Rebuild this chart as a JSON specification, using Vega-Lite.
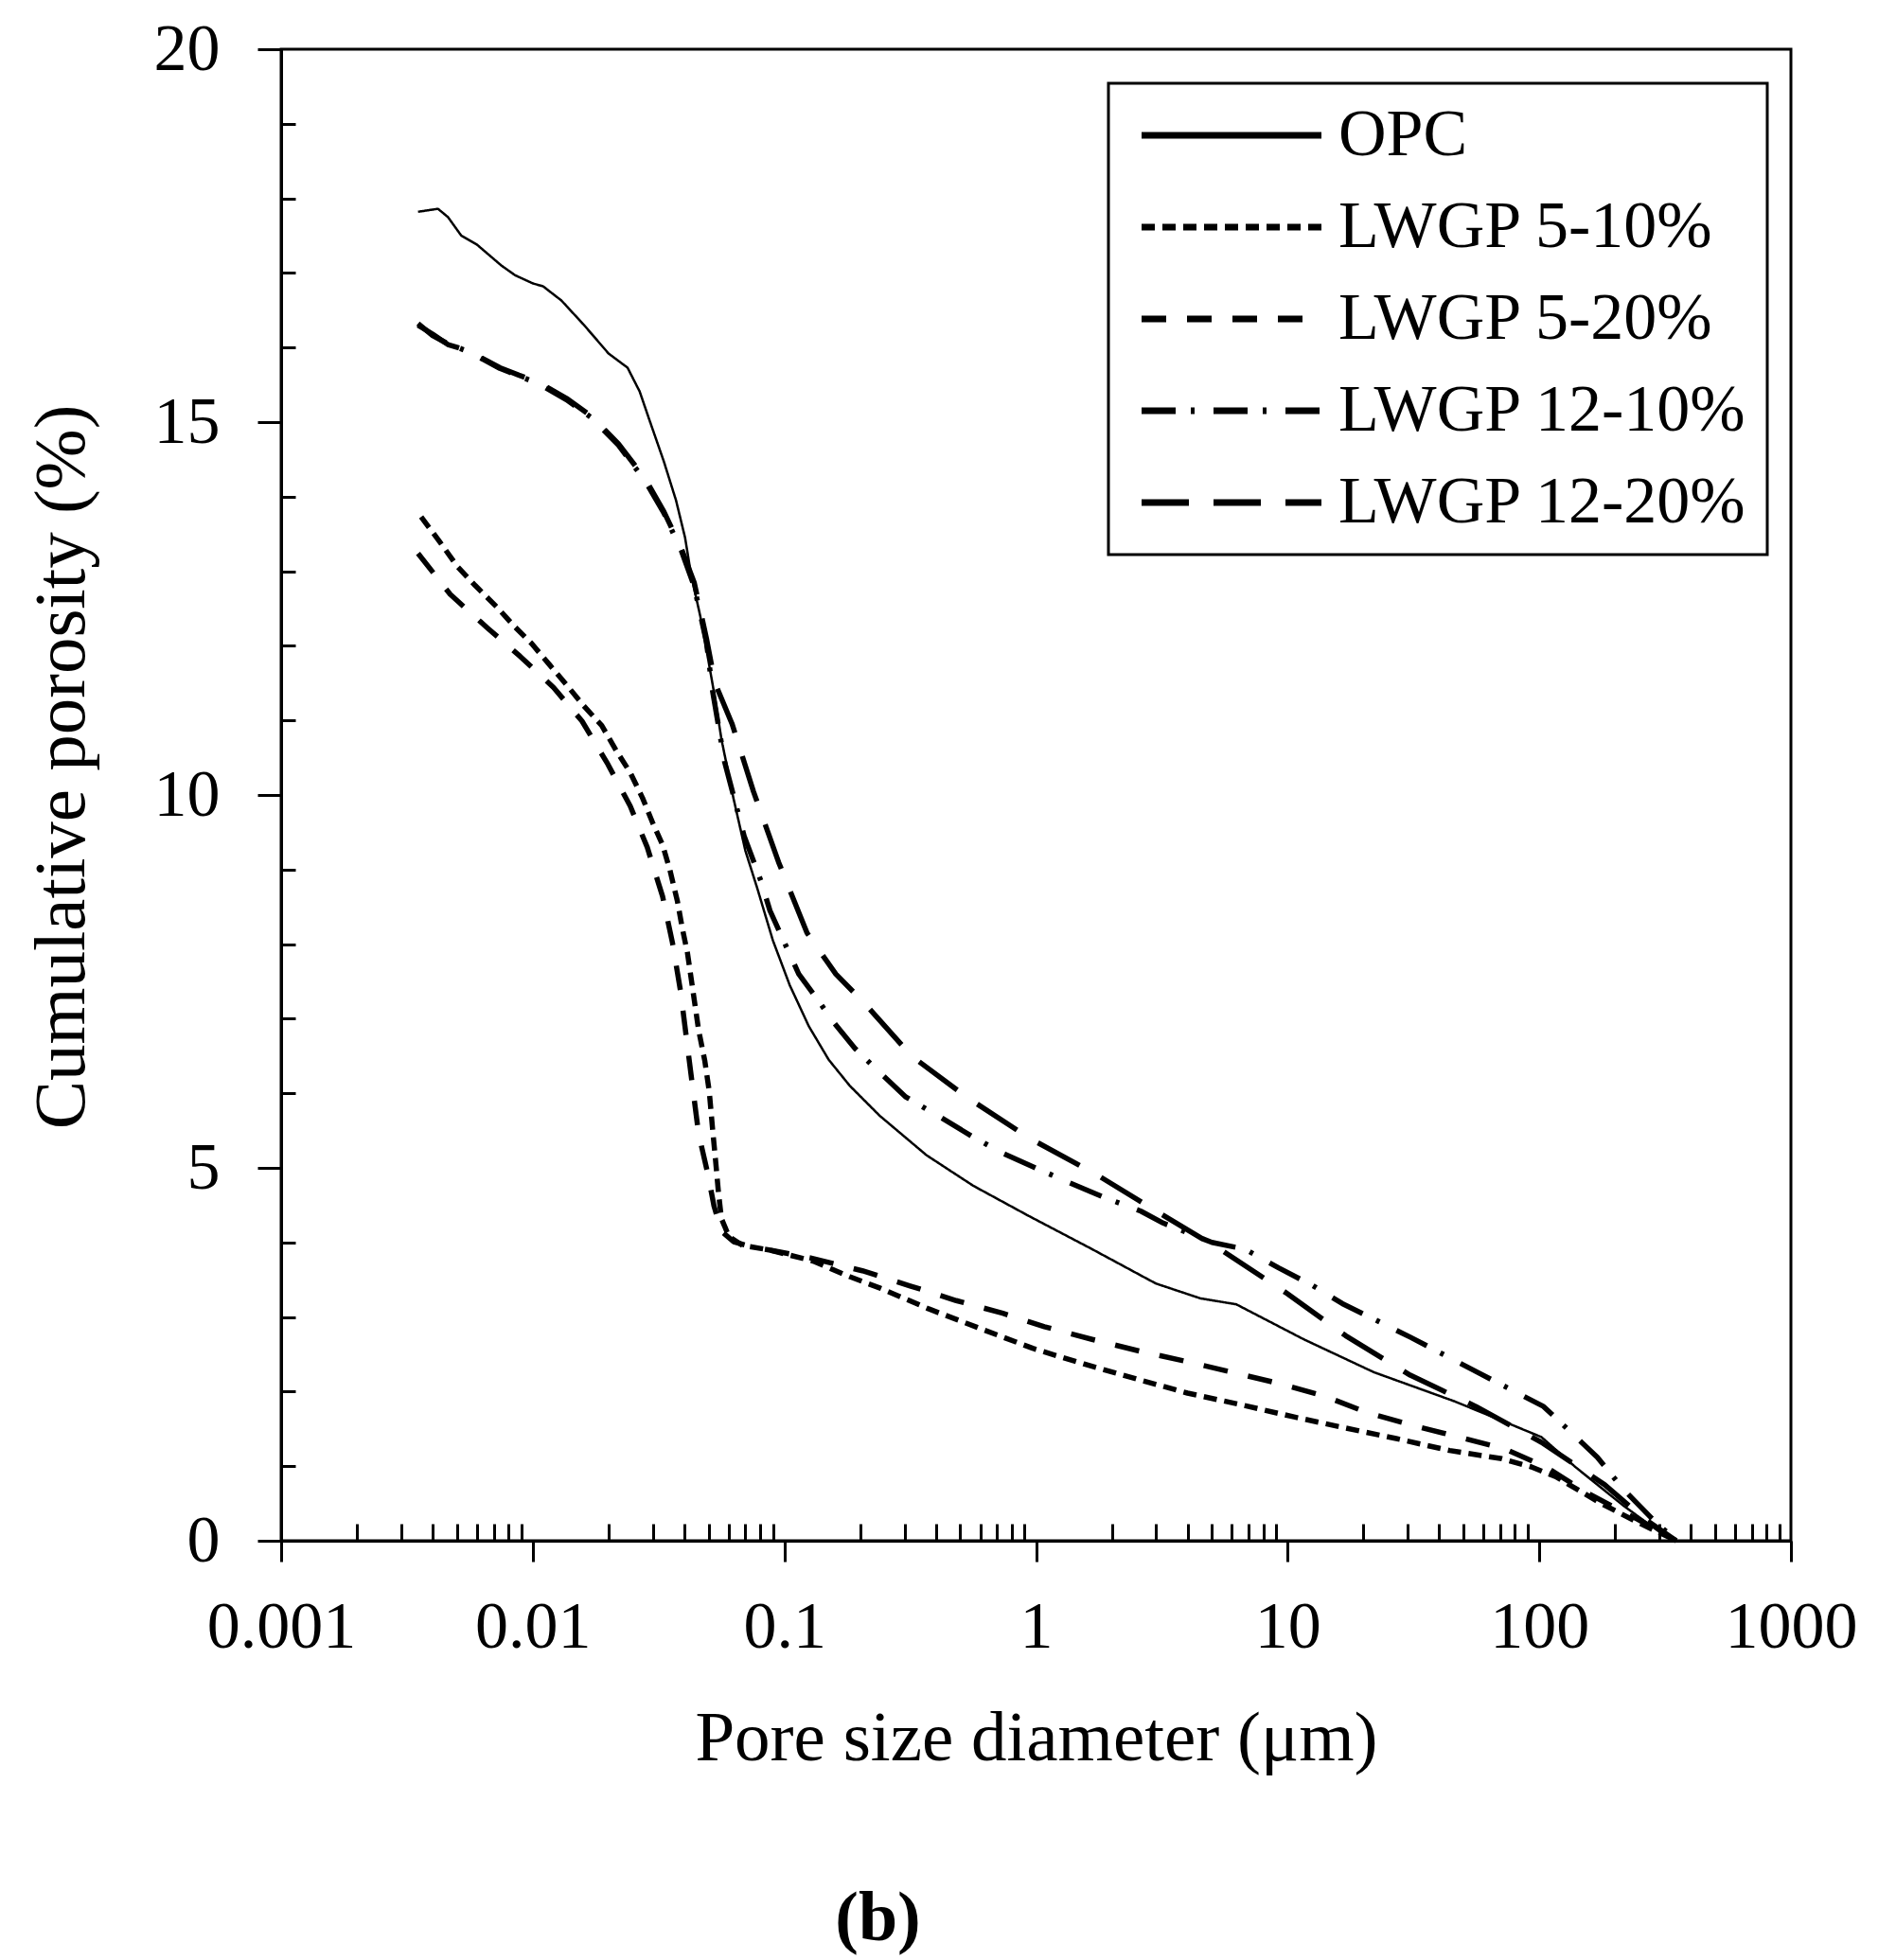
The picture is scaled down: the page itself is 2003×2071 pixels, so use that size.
{
  "$schema": "https://vega.github.io/schema/vega-lite/v6.json",
  "width": 1595,
  "height": 1576,
  "autosize": {"type": "none"},
  "padding": {"left": 297, "top": 52, "right": 111, "bottom": 443},
  "background": "white",
  "title": {"text": "(b)", "orient": "bottom", "anchor": "middle", "dx": -167, "offset": 118, "fontSize": 74, "fontWeight": "bold", "font": "Liberation Serif", "color": "black"},
  "data": {"values": [
    {"s": "OPC", "d": 0.0035, "p": 17.82}, {"s": "OPC", "d": 0.0042, "p": 17.86}, {"s": "OPC", "d": 0.0046, "p": 17.75}, {"s": "OPC", "d": 0.0052, "p": 17.5}, {"s": "OPC", "d": 0.006, "p": 17.38}, {"s": "OPC", "d": 0.0075, "p": 17.1}, {"s": "OPC", "d": 0.0085, "p": 16.97}, {"s": "OPC", "d": 0.01, "p": 16.86}, {"s": "OPC", "d": 0.011, "p": 16.82}, {"s": "OPC", "d": 0.013, "p": 16.63}, {"s": "OPC", "d": 0.016, "p": 16.3}, {"s": "OPC", "d": 0.02, "p": 15.92}, {"s": "OPC", "d": 0.0238, "p": 15.73}, {"s": "OPC", "d": 0.0266, "p": 15.41}, {"s": "OPC", "d": 0.029, "p": 15.04}, {"s": "OPC", "d": 0.0332, "p": 14.47}, {"s": "OPC", "d": 0.0371, "p": 13.95}, {"s": "OPC", "d": 0.0403, "p": 13.45}, {"s": "OPC", "d": 0.0426, "p": 12.95}, {"s": "OPC", "d": 0.0463, "p": 12.4}, {"s": "OPC", "d": 0.049, "p": 11.95}, {"s": "OPC", "d": 0.053, "p": 11.3}, {"s": "OPC", "d": 0.0562, "p": 10.75}, {"s": "OPC", "d": 0.0628, "p": 9.95}, {"s": "OPC", "d": 0.07, "p": 9.25}, {"s": "OPC", "d": 0.078, "p": 8.75}, {"s": "OPC", "d": 0.09, "p": 8.05}, {"s": "OPC", "d": 0.105, "p": 7.45}, {"s": "OPC", "d": 0.125, "p": 6.9}, {"s": "OPC", "d": 0.15, "p": 6.45}, {"s": "OPC", "d": 0.182, "p": 6.1}, {"s": "OPC", "d": 0.239, "p": 5.7}, {"s": "OPC", "d": 0.367, "p": 5.17}, {"s": "OPC", "d": 0.563, "p": 4.76}, {"s": "OPC", "d": 0.93, "p": 4.36}, {"s": "OPC", "d": 1.67, "p": 3.91}, {"s": "OPC", "d": 2.99, "p": 3.45}, {"s": "OPC", "d": 4.5, "p": 3.25}, {"s": "OPC", "d": 6.25, "p": 3.17}, {"s": "OPC", "d": 11.6, "p": 2.7}, {"s": "OPC", "d": 22, "p": 2.26}, {"s": "OPC", "d": 46, "p": 1.87}, {"s": "OPC", "d": 71, "p": 1.61}, {"s": "OPC", "d": 102, "p": 1.39}, {"s": "OPC", "d": 139, "p": 0.99}, {"s": "OPC", "d": 216, "p": 0.47}, {"s": "OPC", "d": 300, "p": 0.12}, {"s": "OPC", "d": 350, "p": 0},

    {"s": "LWGP 5-10%", "d": 0.0036, "p": 13.73}, {"s": "LWGP 5-10%", "d": 0.0043, "p": 13.38}, {"s": "LWGP 5-10%", "d": 0.005, "p": 13.07}, {"s": "LWGP 5-10%", "d": 0.0059, "p": 12.81}, {"s": "LWGP 5-10%", "d": 0.0072, "p": 12.52}, {"s": "LWGP 5-10%", "d": 0.0084, "p": 12.27}, {"s": "LWGP 5-10%", "d": 0.0099, "p": 12.03}, {"s": "LWGP 5-10%", "d": 0.0117, "p": 11.74}, {"s": "LWGP 5-10%", "d": 0.0136, "p": 11.48}, {"s": "LWGP 5-10%", "d": 0.0159, "p": 11.2}, {"s": "LWGP 5-10%", "d": 0.0188, "p": 10.93}, {"s": "LWGP 5-10%", "d": 0.0216, "p": 10.58}, {"s": "LWGP 5-10%", "d": 0.0244, "p": 10.3}, {"s": "LWGP 5-10%", "d": 0.0273, "p": 9.96}, {"s": "LWGP 5-10%", "d": 0.0301, "p": 9.61}, {"s": "LWGP 5-10%", "d": 0.0328, "p": 9.33}, {"s": "LWGP 5-10%", "d": 0.0351, "p": 8.99}, {"s": "LWGP 5-10%", "d": 0.0376, "p": 8.57}, {"s": "LWGP 5-10%", "d": 0.0392, "p": 8.23}, {"s": "LWGP 5-10%", "d": 0.0412, "p": 7.88}, {"s": "LWGP 5-10%", "d": 0.0432, "p": 7.4}, {"s": "LWGP 5-10%", "d": 0.0456, "p": 6.85}, {"s": "LWGP 5-10%", "d": 0.0483, "p": 6.43}, {"s": "LWGP 5-10%", "d": 0.0503, "p": 6.02}, {"s": "LWGP 5-10%", "d": 0.0518, "p": 5.53}, {"s": "LWGP 5-10%", "d": 0.0532, "p": 5.12}, {"s": "LWGP 5-10%", "d": 0.0547, "p": 4.67}, {"s": "LWGP 5-10%", "d": 0.0562, "p": 4.32}, {"s": "LWGP 5-10%", "d": 0.0602, "p": 4.08}, {"s": "LWGP 5-10%", "d": 0.0682, "p": 3.96}, {"s": "LWGP 5-10%", "d": 0.087, "p": 3.9}, {"s": "LWGP 5-10%", "d": 0.13, "p": 3.75}, {"s": "LWGP 5-10%", "d": 0.182, "p": 3.54}, {"s": "LWGP 5-10%", "d": 0.239, "p": 3.39}, {"s": "LWGP 5-10%", "d": 0.374, "p": 3.11}, {"s": "LWGP 5-10%", "d": 0.585, "p": 2.86}, {"s": "LWGP 5-10%", "d": 0.97, "p": 2.58}, {"s": "LWGP 5-10%", "d": 1.55, "p": 2.37}, {"s": "LWGP 5-10%", "d": 2.5, "p": 2.17}, {"s": "LWGP 5-10%", "d": 4, "p": 1.98}, {"s": "LWGP 5-10%", "d": 6.6, "p": 1.82}, {"s": "LWGP 5-10%", "d": 10.6, "p": 1.66}, {"s": "LWGP 5-10%", "d": 16.5, "p": 1.52}, {"s": "LWGP 5-10%", "d": 27, "p": 1.37}, {"s": "LWGP 5-10%", "d": 44, "p": 1.21}, {"s": "LWGP 5-10%", "d": 71, "p": 1.1}, {"s": "LWGP 5-10%", "d": 93, "p": 0.99}, {"s": "LWGP 5-10%", "d": 116, "p": 0.86}, {"s": "LWGP 5-10%", "d": 174, "p": 0.51}, {"s": "LWGP 5-10%", "d": 245, "p": 0.25}, {"s": "LWGP 5-10%", "d": 350, "p": 0},

    {"s": "LWGP 5-20%", "d": 0.0035, "p": 13.24}, {"s": "LWGP 5-20%", "d": 0.0047, "p": 12.69}, {"s": "LWGP 5-20%", "d": 0.0066, "p": 12.24}, {"s": "LWGP 5-20%", "d": 0.0089, "p": 11.86}, {"s": "LWGP 5-20%", "d": 0.0121, "p": 11.44}, {"s": "LWGP 5-20%", "d": 0.0157, "p": 10.99}, {"s": "LWGP 5-20%", "d": 0.0199, "p": 10.41}, {"s": "LWGP 5-20%", "d": 0.0244, "p": 9.85}, {"s": "LWGP 5-20%", "d": 0.0285, "p": 9.3}, {"s": "LWGP 5-20%", "d": 0.0328, "p": 8.64}, {"s": "LWGP 5-20%", "d": 0.0359, "p": 8.02}, {"s": "LWGP 5-20%", "d": 0.0387, "p": 7.36}, {"s": "LWGP 5-20%", "d": 0.0408, "p": 6.74}, {"s": "LWGP 5-20%", "d": 0.0432, "p": 6.08}, {"s": "LWGP 5-20%", "d": 0.0456, "p": 5.46}, {"s": "LWGP 5-20%", "d": 0.0497, "p": 4.91}, {"s": "LWGP 5-20%", "d": 0.0525, "p": 4.49}, {"s": "LWGP 5-20%", "d": 0.0562, "p": 4.15}, {"s": "LWGP 5-20%", "d": 0.0628, "p": 4.01}, {"s": "LWGP 5-20%", "d": 0.0763, "p": 3.93}, {"s": "LWGP 5-20%", "d": 0.087, "p": 3.9}, {"s": "LWGP 5-20%", "d": 0.128, "p": 3.79}, {"s": "LWGP 5-20%", "d": 0.204, "p": 3.62}, {"s": "LWGP 5-20%", "d": 0.314, "p": 3.42}, {"s": "LWGP 5-20%", "d": 0.482, "p": 3.22}, {"s": "LWGP 5-20%", "d": 0.738, "p": 3.05}, {"s": "LWGP 5-20%", "d": 1.08, "p": 2.87}, {"s": "LWGP 5-20%", "d": 1.67, "p": 2.7}, {"s": "LWGP 5-20%", "d": 2.6, "p": 2.54}, {"s": "LWGP 5-20%", "d": 4, "p": 2.4}, {"s": "LWGP 5-20%", "d": 6, "p": 2.26}, {"s": "LWGP 5-20%", "d": 9.2, "p": 2.11}, {"s": "LWGP 5-20%", "d": 14, "p": 1.94}, {"s": "LWGP 5-20%", "d": 20.6, "p": 1.72}, {"s": "LWGP 5-20%", "d": 32, "p": 1.54}, {"s": "LWGP 5-20%", "d": 48, "p": 1.39}, {"s": "LWGP 5-20%", "d": 73, "p": 1.23}, {"s": "LWGP 5-20%", "d": 106, "p": 0.99}, {"s": "LWGP 5-20%", "d": 155, "p": 0.64}, {"s": "LWGP 5-20%", "d": 245, "p": 0.29}, {"s": "LWGP 5-20%", "d": 350, "p": 0},

    {"s": "LWGP 12-10%", "d": 0.0035, "p": 16.32}, {"s": "LWGP 12-10%", "d": 0.004, "p": 16.16}, {"s": "LWGP 12-10%", "d": 0.0046, "p": 16.05}, {"s": "LWGP 12-10%", "d": 0.0056, "p": 15.94}, {"s": "LWGP 12-10%", "d": 0.0074, "p": 15.72}, {"s": "LWGP 12-10%", "d": 0.0088, "p": 15.62}, {"s": "LWGP 12-10%", "d": 0.0106, "p": 15.51}, {"s": "LWGP 12-10%", "d": 0.0136, "p": 15.3}, {"s": "LWGP 12-10%", "d": 0.0171, "p": 15.06}, {"s": "LWGP 12-10%", "d": 0.0219, "p": 14.69}, {"s": "LWGP 12-10%", "d": 0.0281, "p": 14.2}, {"s": "LWGP 12-10%", "d": 0.0332, "p": 13.78}, {"s": "LWGP 12-10%", "d": 0.039, "p": 13.27}, {"s": "LWGP 12-10%", "d": 0.0438, "p": 12.8}, {"s": "LWGP 12-10%", "d": 0.049, "p": 12.05}, {"s": "LWGP 12-10%", "d": 0.0518, "p": 11.4}, {"s": "LWGP 12-10%", "d": 0.0578, "p": 10.45}, {"s": "LWGP 12-10%", "d": 0.0692, "p": 9.45}, {"s": "LWGP 12-10%", "d": 0.0806, "p": 8.85}, {"s": "LWGP 12-10%", "d": 0.0876, "p": 8.45}, {"s": "LWGP 12-10%", "d": 0.114, "p": 7.6}, {"s": "LWGP 12-10%", "d": 0.136, "p": 7.25}, {"s": "LWGP 12-10%", "d": 0.157, "p": 6.95}, {"s": "LWGP 12-10%", "d": 0.191, "p": 6.6}, {"s": "LWGP 12-10%", "d": 0.239, "p": 6.28}, {"s": "LWGP 12-10%", "d": 0.304, "p": 5.95}, {"s": "LWGP 12-10%", "d": 0.412, "p": 5.69}, {"s": "LWGP 12-10%", "d": 0.552, "p": 5.43}, {"s": "LWGP 12-10%", "d": 0.733, "p": 5.2}, {"s": "LWGP 12-10%", "d": 1.01, "p": 4.99}, {"s": "LWGP 12-10%", "d": 1.36, "p": 4.8}, {"s": "LWGP 12-10%", "d": 1.91, "p": 4.59}, {"s": "LWGP 12-10%", "d": 2.61, "p": 4.42}, {"s": "LWGP 12-10%", "d": 3.2, "p": 4.26}, {"s": "LWGP 12-10%", "d": 5, "p": 4.0}, {"s": "LWGP 12-10%", "d": 6.76, "p": 3.91}, {"s": "LWGP 12-10%", "d": 9.2, "p": 3.66}, {"s": "LWGP 12-10%", "d": 12.6, "p": 3.42}, {"s": "LWGP 12-10%", "d": 16.5, "p": 3.18}, {"s": "LWGP 12-10%", "d": 30.7, "p": 2.73}, {"s": "LWGP 12-10%", "d": 56, "p": 2.27}, {"s": "LWGP 12-10%", "d": 104, "p": 1.8}, {"s": "LWGP 12-10%", "d": 170, "p": 1.12}, {"s": "LWGP 12-10%", "d": 216, "p": 0.69}, {"s": "LWGP 12-10%", "d": 280, "p": 0.3}, {"s": "LWGP 12-10%", "d": 350, "p": 0},

    {"s": "LWGP 12-20%", "d": 0.0035, "p": 16.3}, {"s": "LWGP 12-20%", "d": 0.004, "p": 16.18}, {"s": "LWGP 12-20%", "d": 0.0046, "p": 16.04}, {"s": "LWGP 12-20%", "d": 0.0056, "p": 15.95}, {"s": "LWGP 12-20%", "d": 0.0074, "p": 15.73}, {"s": "LWGP 12-20%", "d": 0.0088, "p": 15.63}, {"s": "LWGP 12-20%", "d": 0.0106, "p": 15.53}, {"s": "LWGP 12-20%", "d": 0.0136, "p": 15.32}, {"s": "LWGP 12-20%", "d": 0.0171, "p": 15.08}, {"s": "LWGP 12-20%", "d": 0.0219, "p": 14.71}, {"s": "LWGP 12-20%", "d": 0.0281, "p": 14.23}, {"s": "LWGP 12-20%", "d": 0.0332, "p": 13.8}, {"s": "LWGP 12-20%", "d": 0.039, "p": 13.3}, {"s": "LWGP 12-20%", "d": 0.0438, "p": 12.85}, {"s": "LWGP 12-20%", "d": 0.049, "p": 12.1}, {"s": "LWGP 12-20%", "d": 0.053, "p": 11.5}, {"s": "LWGP 12-20%", "d": 0.062, "p": 10.95}, {"s": "LWGP 12-20%", "d": 0.0753, "p": 10.05}, {"s": "LWGP 12-20%", "d": 0.0948, "p": 9.1}, {"s": "LWGP 12-20%", "d": 0.123, "p": 8.15}, {"s": "LWGP 12-20%", "d": 0.16, "p": 7.6}, {"s": "LWGP 12-20%", "d": 0.209, "p": 7.2}, {"s": "LWGP 12-20%", "d": 0.32, "p": 6.5}, {"s": "LWGP 12-20%", "d": 0.535, "p": 5.94}, {"s": "LWGP 12-20%", "d": 0.94, "p": 5.4}, {"s": "LWGP 12-20%", "d": 1.74, "p": 4.91}, {"s": "LWGP 12-20%", "d": 3.18, "p": 4.37}, {"s": "LWGP 12-20%", "d": 5.5, "p": 3.89}, {"s": "LWGP 12-20%", "d": 9.8, "p": 3.33}, {"s": "LWGP 12-20%", "d": 17, "p": 2.75}, {"s": "LWGP 12-20%", "d": 30.7, "p": 2.22}, {"s": "LWGP 12-20%", "d": 56, "p": 1.8}, {"s": "LWGP 12-20%", "d": 102, "p": 1.32}, {"s": "LWGP 12-20%", "d": 182, "p": 0.75}, {"s": "LWGP 12-20%", "d": 260, "p": 0.3}, {"s": "LWGP 12-20%", "d": 350, "p": 0}
  ]},
  "mark": {"type": "line", "color": "black", "strokeCap": "butt", "strokeJoin": "round"},
  "encoding": {
    "x": {
      "field": "d", "type": "quantitative",
      "scale": {"type": "log", "domain": [0.001, 1000], "nice": false},
      "axis": {
        "title": "Pore size diameter (μm)",
        "titleFontSize": 75,
        "values": [0.001, 0.002, 0.003, 0.004, 0.005, 0.006, 0.007, 0.008, 0.009, 0.01, 0.02, 0.03, 0.04, 0.05, 0.06, 0.07, 0.08, 0.09, 0.1, 0.2, 0.3, 0.4, 0.5, 0.6, 0.7, 0.8, 0.9, 1, 2, 3, 4, 5, 6, 7, 8, 9, 10, 20, 30, 40, 50, 60, 70, 80, 90, 100, 200, 300, 400, 500, 600, 700, 800, 900, 1000],
        "labelExpr": "indexof([0.001, 0.01, 0.1, 1, 10, 100, 1000], datum.value) >= 0 ? format(datum.value, '~g') : ''",
        "tickSize": {"condition": {"test": "indexof([0.001, 0.01, 0.1, 1, 10, 100, 1000], datum.value) >= 0", "value": 22}, "value": -18},
        "labelPadding": 35,
        "titlePadding": 46,
        "labelOverlap": false,
        "labelFlush": false,
        "grid": false
      }
    },
    "y": {
      "field": "p", "type": "quantitative",
      "scale": {"domain": [0, 20], "nice": false},
      "axis": {
        "title": "Cumulative porosity (%)",
        "titleFontSize": 77,
        "titleY": 758,
        "values": [0, 1, 2, 3, 4, 5, 6, 7, 8, 9, 10, 11, 12, 13, 14, 15, 16, 17, 18, 19, 20],
        "labelExpr": "datum.value % 5 === 0 ? datum.label : ''",
        "tickSize": {"condition": {"test": "datum.value % 5 === 0", "value": 25}, "value": -15},
        "labelPadding": 40,
        "titlePadding": 58,
        "labelOverlap": false,
        "labelFlush": false,
        "grid": false
      }
    },
    "strokeDash": {
      "field": "s", "type": "nominal",
      "scale": {
        "domain": ["OPC", "LWGP 5-10%", "LWGP 5-20%", "LWGP 12-10%", "LWGP 12-20%"],
        "range": [[1, 0], [14, 8], [26, 22], [36, 16, 4, 20], [50, 26]]
      },
      "legend": {
        "title": null,
        "orient": "none",
        "legendX": 874,
        "legendY": 36,
        "symbolType": "M-5,0H5",
        "symbolSize": 1444,
        "symbolStrokeWidth": 7,
        "symbolStrokeColor": "black",
        "symbolOffset": 75,
        "labelOffset": 78,
        "labelFont": "Liberation Serif",
        "labelFontSize": 70,
        "labelColor": "black",
        "labelLimit": 0,
        "rowPadding": 27,
        "padding": 20,
        "strokeColor": "black",
        "fillColor": "white"
      }
    },
    "strokeWidth": {"condition": {"test": "datum.s === 'OPC'", "value": 2.5}, "value": 5.5}
  },
  "config": {
    "font": "Liberation Serif",
    "view": {"stroke": "black", "strokeWidth": 3},
    "axis": {
      "domainColor": "black", "domainWidth": 3,
      "tickColor": "black", "tickWidth": 3,
      "labelFont": "Liberation Serif", "labelFontSize": 70, "labelColor": "black",
      "titleFont": "Liberation Serif", "titleFontSize": 70, "titleFontWeight": "normal", "titleColor": "black"
    },
    "legend": {"strokeWidth": 3}
  }
}
